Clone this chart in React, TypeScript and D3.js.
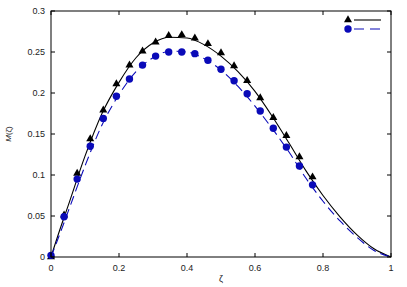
import { useEffect, useRef } from 'react'
import * as d3 from 'd3'

// sample positions (zeta) of the markers
const markerZeta = d3.range(0, 21).map(k => k / 26)
const triangleValues = [
  0, 0.051, 0.102, 0.144, 0.179, 0.211, 0.234, 0.251, 0.262, 0.270, 0.271,
  0.267, 0.260, 0.249, 0.233, 0.215, 0.194, 0.170, 0.148, 0.122, 0.0975,
]
const circleValues = [
  0.002, 0.049, 0.095, 0.135, 0.169, 0.196, 0.217, 0.234, 0.245, 0.250, 0.250,
  0.248, 0.240, 0.229, 0.215, 0.199, 0.178, 0.157, 0.134, 0.111, 0.088,
]

// curves
const curveZeta = [0, 0.025, 0.05, 0.1, 0.15, 0.2, 0.25, 0.3, 0.35, 0.4, 0.45, 0.5, 0.55, 0.6, 0.65, 0.7, 0.75, 0.8, 0.85, 0.9, 0.95, 1]
const solidCurve = [0, 0.032, 0.062, 0.123, 0.175, 0.213, 0.243, 0.261, 0.268, 0.267, 0.259, 0.245, 0.226, 0.202, 0.172, 0.139, 0.105, 0.075, 0.049, 0.027, 0.010, 0]
const dashedCurve = [0, 0.027, 0.055, 0.111, 0.161, 0.198, 0.226, 0.243, 0.251, 0.250, 0.242, 0.228, 0.208, 0.184, 0.157, 0.128, 0.096, 0.068, 0.044, 0.024, 0.008, 0]

const xTicks = [0, 0.2, 0.4, 0.6, 0.8, 1]
const yTicks = [0, 0.05, 0.1, 0.15, 0.2, 0.25, 0.3]

const BLUE = '#0a0ab8'

export default function App() {
  const svgRef = useRef<SVGSVGElement>(null)

  useEffect(() => {
    if (!svgRef.current) return
    const svg = d3.select(svgRef.current)
    svg.selectAll('*').remove()

    const left = 51, right = 391, top = 11, bottom = 257
    const x = d3.scaleLinear().domain([0, 1]).range([left, right])
    const y = d3.scaleLinear().domain([0, 0.3]).range([bottom, top])
    const font = '"Liberation Sans", Arial, sans-serif'

    const line = d3.line<number>()
      .x((_, i) => x(curveZeta[i]))
      .y(d => y(d))
      .curve(d3.curveMonotoneX)

    svg.append('path')
      .attr('d', line(solidCurve))
      .attr('fill', 'none')
      .attr('stroke', '#000')
      .attr('stroke-width', 1.1)

    svg.append('path')
      .attr('d', line(dashedCurve))
      .attr('fill', 'none')
      .attr('stroke', BLUE)
      .attr('stroke-width', 1.1)
      .attr('stroke-dasharray', '9,5')

    const tri = d3.symbol().type(d3.symbolTriangle).size(28)
    svg.append('g').selectAll('path')
      .data(triangleValues)
      .join('path')
      .attr('d', tri)
      .attr('transform', (d, i) => `translate(${x(markerZeta[i])},${y(d)})`)
      .attr('fill', '#000')

    svg.append('g').selectAll('circle')
      .data(circleValues)
      .join('circle')
      .attr('cx', (_, i) => x(markerZeta[i]))
      .attr('cy', d => y(d))
      .attr('r', 3.7)
      .attr('fill', BLUE)

    // frame
    svg.append('rect')
      .attr('x', left).attr('y', top)
      .attr('width', right - left).attr('height', bottom - top)
      .attr('fill', 'none').attr('stroke', '#000').attr('stroke-width', 1)

    // inward ticks on all sides
    const tk = 4
    const g = svg.append('g').attr('stroke', '#000').attr('stroke-width', 1)
    xTicks.forEach(t => {
      g.append('line').attr('x1', x(t)).attr('x2', x(t)).attr('y1', bottom).attr('y2', bottom - tk)
      g.append('line').attr('x1', x(t)).attr('x2', x(t)).attr('y1', top).attr('y2', top + tk)
    })
    yTicks.forEach(t => {
      g.append('line').attr('y1', y(t)).attr('y2', y(t)).attr('x1', left).attr('x2', left + tk)
      g.append('line').attr('y1', y(t)).attr('y2', y(t)).attr('x1', right).attr('x2', right - tk)
    })

    const fmt = (v: number) => String(+v.toFixed(2))

    svg.append('g').selectAll('text')
      .data(xTicks)
      .join('text')
      .attr('x', d => x(d))
      .attr('y', bottom + 14)
      .attr('text-anchor', 'middle')
      .attr('font-family', font)
      .attr('font-size', 9)
      .attr('fill', '#222')
      .text(fmt)

    svg.append('g').selectAll('text')
      .data(yTicks)
      .join('text')
      .attr('x', left - 6)
      .attr('y', d => y(d) + 3)
      .attr('text-anchor', 'end')
      .attr('font-family', font)
      .attr('font-size', 9)
      .attr('fill', '#222')
      .text(fmt)

    svg.append('text')
      .attr('x', (left + right) / 2)
      .attr('y', 282)
      .attr('text-anchor', 'middle')
      .attr('font-family', font)
      .attr('font-size', 9)
      .attr('fill', '#222')
      .text('ζ')

    svg.append('text')
      .attr('transform', `translate(11,${(top + bottom) / 2}) rotate(-90)`)
      .attr('text-anchor', 'middle')
      .attr('font-family', font)
      .attr('font-size', 8)
      .attr('fill', '#222')
      .html('<tspan font-style="italic">M</tspan>(ζ)')

    // legend
    const lx = 348
    svg.append('path')
      .attr('d', tri)
      .attr('transform', `translate(${lx},20)`)
      .attr('fill', '#000')
    svg.append('line')
      .attr('x1', lx + 6).attr('x2', 381).attr('y1', 20).attr('y2', 20)
      .attr('stroke', '#000').attr('stroke-width', 1.1)
    svg.append('circle')
      .attr('cx', lx).attr('cy', 29).attr('r', 3.7).attr('fill', BLUE)
    svg.append('line')
      .attr('x1', lx + 6).attr('x2', 381).attr('y1', 29).attr('y2', 29)
      .attr('stroke', BLUE).attr('stroke-width', 1.1)
      .attr('stroke-dasharray', '10,6')
  }, [])

  return (
    <svg
      ref={svgRef}
      width={407}
      height={287}
      style={{ position: 'absolute', left: 0, top: 0, background: '#fff' }}
    />
  )
}
